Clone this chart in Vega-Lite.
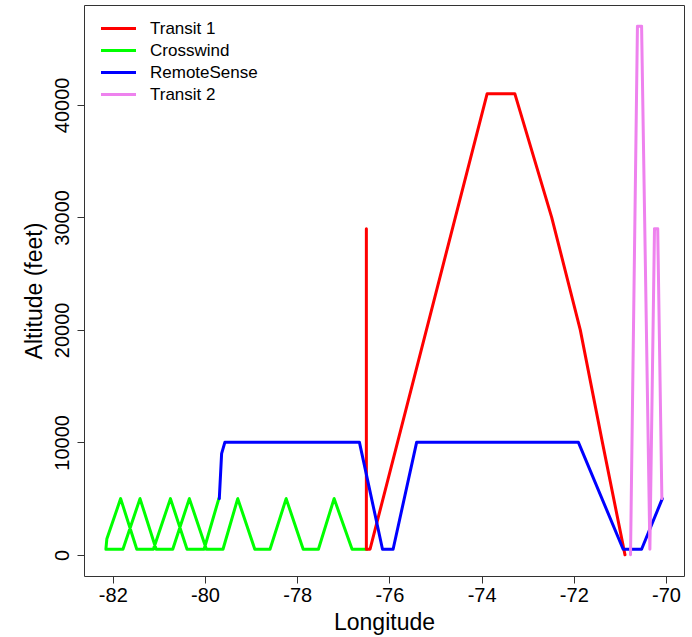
{
  "$schema": "https://vega.github.io/schema/vega-lite/v6.json",
  "width": 600,
  "height": 571,
  "autosize": {"type": "none"},
  "padding": {"left": 84, "top": 5, "right": 8, "bottom": 61},
  "background": "white",
  "config": {
    "view": {"stroke": "#333", "strokeWidth": 1},
    "font": "Liberation Sans",
    "axis": {"grid": false, "domain": false, "tickColor": "#333", "tickSize": 7, "labelColor": "black", "titleColor": "black", "labelFont": "Liberation Sans", "titleFont": "Liberation Sans", "titleFontWeight": "normal", "labelFontSize": 20, "titleFontSize": 23}
  },
  "data": {
    "values": [
      {"s": "Crosswind", "i": 1, "lon": -76.49, "alt": 500},
      {"s": "Crosswind", "i": 2, "lon": -76.81, "alt": 500},
      {"s": "Crosswind", "i": 3, "lon": -77.20, "alt": 5000},
      {"s": "Crosswind", "i": 4, "lon": -77.54, "alt": 500},
      {"s": "Crosswind", "i": 5, "lon": -77.87, "alt": 500},
      {"s": "Crosswind", "i": 6, "lon": -78.24, "alt": 5000},
      {"s": "Crosswind", "i": 7, "lon": -78.59, "alt": 500},
      {"s": "Crosswind", "i": 8, "lon": -78.92, "alt": 500},
      {"s": "Crosswind", "i": 9, "lon": -79.29, "alt": 5000},
      {"s": "Crosswind", "i": 10, "lon": -79.61, "alt": 500},
      {"s": "Crosswind", "i": 11, "lon": -79.97, "alt": 500},
      {"s": "Crosswind", "i": 12, "lon": -80.34, "alt": 5000},
      {"s": "Crosswind", "i": 13, "lon": -80.70, "alt": 500},
      {"s": "Crosswind", "i": 14, "lon": -81.06, "alt": 500},
      {"s": "Crosswind", "i": 15, "lon": -81.41, "alt": 5000},
      {"s": "Crosswind", "i": 16, "lon": -81.78, "alt": 500},
      {"s": "Crosswind", "i": 17, "lon": -82.15, "alt": 500},
      {"s": "Crosswind", "i": 18, "lon": -82.13, "alt": 1400},
      {"s": "Crosswind", "i": 19, "lon": -81.83, "alt": 5000},
      {"s": "Crosswind", "i": 20, "lon": -81.48, "alt": 500},
      {"s": "Crosswind", "i": 21, "lon": -81.12, "alt": 500},
      {"s": "Crosswind", "i": 22, "lon": -80.75, "alt": 5000},
      {"s": "Crosswind", "i": 23, "lon": -80.39, "alt": 500},
      {"s": "Crosswind", "i": 24, "lon": -80.02, "alt": 500},
      {"s": "Crosswind", "i": 25, "lon": -79.70, "alt": 5000},
      {"s": "Transit 1", "i": 1, "lon": -76.50, "alt": 29000},
      {"s": "Transit 1", "i": 2, "lon": -76.50, "alt": 500},
      {"s": "Transit 1", "i": 3, "lon": -76.42, "alt": 500},
      {"s": "Transit 1", "i": 4, "lon": -73.88, "alt": 41000},
      {"s": "Transit 1", "i": 5, "lon": -73.28, "alt": 41000},
      {"s": "Transit 1", "i": 6, "lon": -72.48, "alt": 30000},
      {"s": "Transit 1", "i": 7, "lon": -71.86, "alt": 20000},
      {"s": "Transit 1", "i": 8, "lon": -71.38, "alt": 10000},
      {"s": "Transit 1", "i": 9, "lon": -70.89, "alt": 0},
      {"s": "RemoteSense", "i": 1, "lon": -79.69, "alt": 5000},
      {"s": "RemoteSense", "i": 2, "lon": -79.64, "alt": 9000},
      {"s": "RemoteSense", "i": 3, "lon": -79.57, "alt": 10000},
      {"s": "RemoteSense", "i": 4, "lon": -76.65, "alt": 10000},
      {"s": "RemoteSense", "i": 5, "lon": -76.15, "alt": 500},
      {"s": "RemoteSense", "i": 6, "lon": -75.92, "alt": 500},
      {"s": "RemoteSense", "i": 7, "lon": -75.41, "alt": 10000},
      {"s": "RemoteSense", "i": 8, "lon": -71.90, "alt": 10000},
      {"s": "RemoteSense", "i": 9, "lon": -70.93, "alt": 500},
      {"s": "RemoteSense", "i": 10, "lon": -70.53, "alt": 500},
      {"s": "RemoteSense", "i": 11, "lon": -70.08, "alt": 5000},
      {"s": "Transit 2", "i": 1, "lon": -70.77, "alt": 0},
      {"s": "Transit 2", "i": 2, "lon": -70.62, "alt": 47000},
      {"s": "Transit 2", "i": 3, "lon": -70.53, "alt": 47000},
      {"s": "Transit 2", "i": 4, "lon": -70.35, "alt": 500},
      {"s": "Transit 2", "i": 5, "lon": -70.25, "alt": 29000},
      {"s": "Transit 2", "i": 6, "lon": -70.18, "alt": 29000},
      {"s": "Transit 2", "i": 7, "lon": -70.09, "alt": 5000}
    ]
  },
  "mark": {"type": "line", "strokeWidth": 3, "strokeJoin": "round", "strokeCap": "round"},
  "encoding": {
    "x": {
      "field": "lon", "type": "quantitative", "title": "Longitude",
      "scale": {"domain": [-82.625, -69.61], "nice": false, "zero": false},
      "axis": {"values": [-82, -80, -78, -76, -74, -72, -70], "labelExpr": "toString(datum.value)", "labelPadding": 2, "titlePadding": 6}
    },
    "y": {
      "field": "alt", "type": "quantitative", "title": "Altitude (feet)",
      "scale": {"domain": [-1880, 48880], "nice": false, "zero": false},
      "axis": {"values": [0, 10000, 20000, 30000, 40000], "labelExpr": "toString(datum.value)", "labelAngle": -90, "labelAlign": "center", "labelBaseline": "bottom", "labelPadding": 5, "titlePadding": 6}
    },
    "color": {
      "field": "s", "type": "nominal",
      "scale": {"domain": ["Transit 1", "Crosswind", "RemoteSense", "Transit 2"], "range": ["#FF0000", "#00FF00", "#0000FF", "#EE82EE"]},
      "legend": {"title": null, "orient": "none", "legendX": 26, "legendY": 15, "symbolType": "M-5,0H5", "symbolSize": 49, "symbolStrokeWidth": 3, "labelFontSize": 17, "labelFont": "Liberation Sans", "labelColor": "black", "labelOffset": 23, "rowPadding": 4}
    },
    "order": {"field": "i", "type": "quantitative"}
  }
}
